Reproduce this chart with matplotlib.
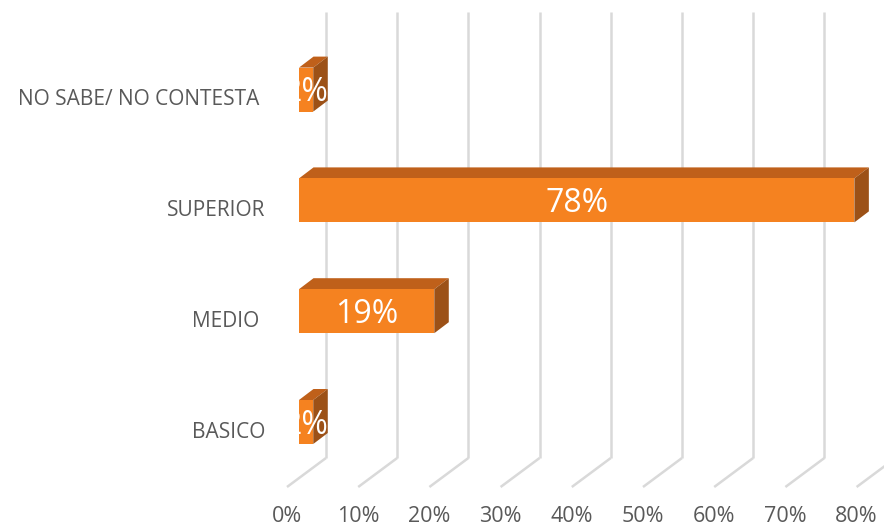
import matplotlib
matplotlib.use("Agg")
import matplotlib.pyplot as plt
from matplotlib.patches import Polygon

categories = ["BASICO", "MEDIO ", "SUPERIOR", "NO SABE/ NO CONTESTA "]
values = [2, 19, 78, 2]
value_labels = ["2%", "19%", "78%", "2%"]
ticks = [0, 10, 20, 30, 40, 50, 60, 70, 80]
tick_labels = ["0%", "10%", "20%", "30%", "40%", "50%", "60%", "70%", "80%"]

W, H = 884, 527
fig = plt.figure(figsize=(W / 100, H / 100), dpi=100)
ax = fig.add_axes([0, 0, 1, 1])

# scale: pixels per percent and per category step
PX = 7.12
PY = 110.8
X0 = 299   # pixel x of 0% at bar front face
Y0 = 422   # pixel y of first category centre
ax.set_xlim(-X0 / PX, (W - X0) / PX)
ax.set_ylim((Y0 - H) / PY, Y0 / PY)
ax.axis("off")

def dxp(p):
    return p / PX

def dyp(p):
    return p / PY

font = "Open Sans"
grid_c = "#D9D9D9"
text_c = "#595959"

# back wall / floor geometry (pixel offsets converted to data)
wall_dx = dxp(27)
wall_bottom = dyp(Y0 - 458)
wall_top = dyp(Y0 - 12)
floor_dx = dxp(-39)
floor_dy = dyp(-29)

for t, lab in zip(ticks, tick_labels):
    xb = t + wall_dx
    ax.plot([xb, xb], [wall_bottom, wall_top], color=grid_c, lw=1.8,
            solid_capstyle="butt", zorder=1)
    ax.plot([xb, xb + floor_dx], [wall_bottom, wall_bottom + floor_dy],
            color=grid_c, lw=1.8, solid_capstyle="butt", zorder=1)
    ax.text(xb + floor_dx, dyp(Y0 - 517), lab, ha="center", va="center",
            fontsize=15.5, color=text_c, family=font)

# bars
bh = dyp(44)
ddx = dxp(14.5)
ddy = dyp(11)
front_c = "#F58220"
top_c = "#BF601A"
side_c = "#9C5117"

for i, (cat, v, vl) in enumerate(zip(categories, values, value_labels)):
    y0 = i - bh / 2
    y1 = i + bh / 2
    top = Polygon([(0, y1), (v, y1), (v + ddx, y1 + ddy), (ddx, y1 + ddy)],
                  closed=True, facecolor=top_c, edgecolor="none", zorder=3)
    side = Polygon([(v, y0), (v + ddx, y0 + ddy), (v + ddx, y1 + ddy), (v, y1)],
                   closed=True, facecolor=side_c, edgecolor="none", zorder=3)
    ax.add_patch(top)
    ax.add_patch(side)
    ax.barh(i, v, height=bh, left=0, color=front_c, zorder=4)
    ax.text(v / 2, i - dyp(3), vl, ha="center", va="center", fontsize=23,
            color="white", family=font, zorder=5)
    ax.text(-dxp(X0 - 265), i - dyp(10), cat, ha="right", va="center",
            fontsize=15, color=text_c, family=font)

fig.savefig("out.png", dpi=100)
